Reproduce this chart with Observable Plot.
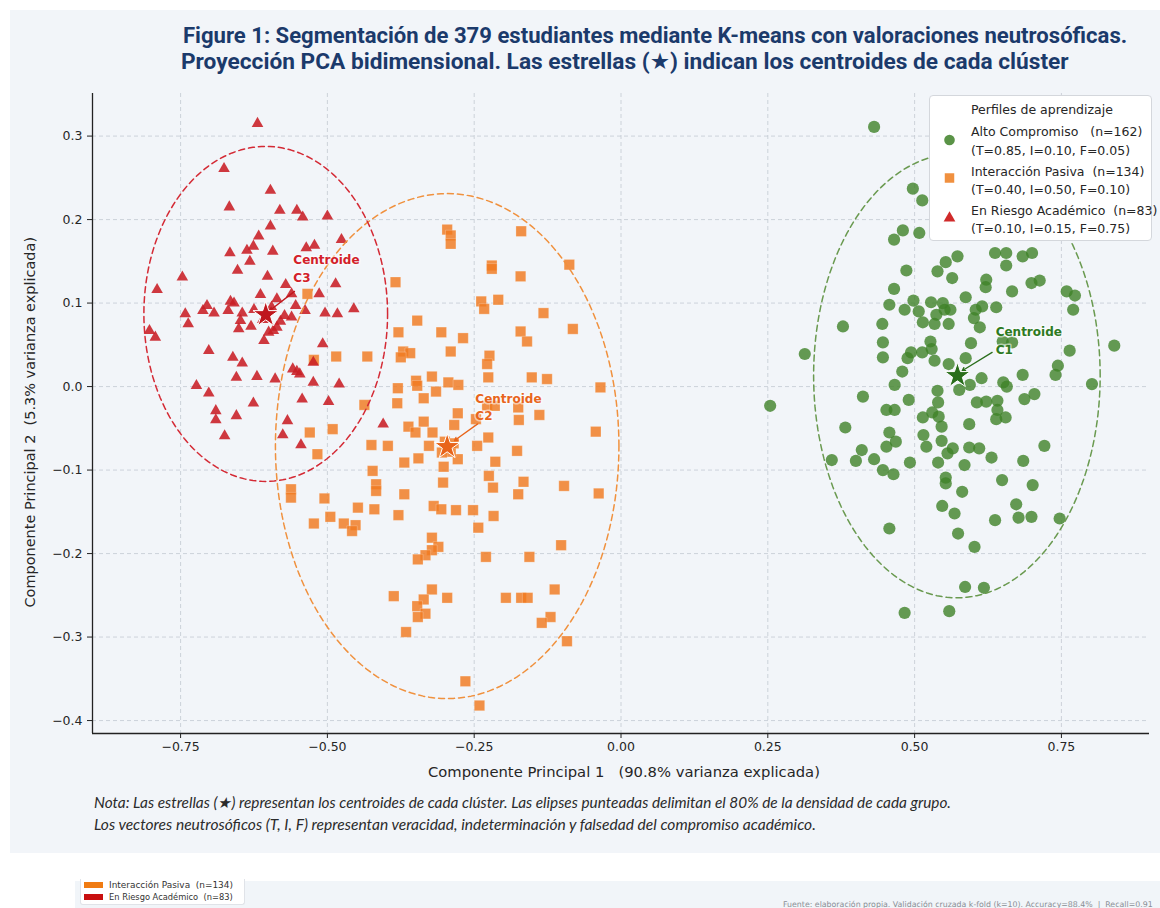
<!DOCTYPE html>
<html><head><meta charset="utf-8">
<script src="https://cdn.jsdelivr.net/npm/d3@7"></script>
<script src="https://cdn.jsdelivr.net/npm/@observablehq/plot@0.6"></script>
<style>
html,body{margin:0;padding:0;background:#fff;}
body{width:1160px;height:908px;overflow:hidden;position:relative;font-family:"DejaVu Sans",sans-serif;}
#panel{position:absolute;left:10px;top:10px;width:1150px;height:843px;background:#f2f5f9;}
#chart{position:absolute;left:0;top:0;}
.abs{position:absolute;white-space:pre;line-height:1;}
.title{font-family:Roboto,"DejaVu Sans",sans-serif;font-weight:700;color:#1b3a6b;font-size:18.5px;}
.note{font-family:Lato,"Open Sans",sans-serif;font-style:italic;color:#2b2b2b;font-size:12.8px;}
.axt{font-family:"DejaVu Sans",sans-serif;color:#262626;font-size:13.5px;}
#legend{position:absolute;left:929px;top:95px;width:223px;height:146px;background:#fff;border:1px solid #d4d7dc;border-radius:4px;box-sizing:border-box;}
.lg{font-family:"DejaVu Sans",sans-serif;color:#262626;font-size:12.5px;}
#strip{position:absolute;left:75px;top:881px;width:1085px;height:27px;background:#f1f5f9;}
#miniLeg{position:absolute;left:80px;top:879px;width:165px;height:26px;background:#fff;border:1px solid #e0e3e8;border-top:none;border-radius:0 0 3px 3px;box-sizing:border-box;}
.mini{font-family:"DejaVu Sans",sans-serif;color:#333;font-size:8.3px;}
.src{font-family:"DejaVu Sans",sans-serif;color:#8a8f96;font-size:7.3px;}
</style></head>
<body>
<div id="panel"></div>
<div id="chart"></div>
<div id="legend"></div>
<div id="strip"></div>
<div id="miniLeg"></div>
<script>
// ---------- DATA ----------
const clusterNames = ["Alto Compromiso", "Interacción Pasiva", "En Riesgo Académico"];
const clusterN = [162, 134, 83];
const clusterTIF = ["(T=0.85, I=0.10, F=0.05)", "(T=0.40, I=0.50, F=0.10)", "(T=0.10, I=0.15, F=0.75)"];

const altoCompromiso = [
[0.431,0.311],[0.497,0.237],[0.513,0.223],[0.480,0.187],[0.465,0.176],[0.508,0.184],[0.553,0.149],[0.573,0.156],[0.539,0.138],[0.486,0.139],
[0.637,0.160],[0.656,0.160],[0.684,0.156],[0.700,0.160],[0.656,0.145],[0.564,0.130],[0.622,0.128],[0.621,0.119],[0.666,0.114],[0.699,0.124],
[0.713,0.127],[0.465,0.117],[0.759,0.114],[0.773,0.109],[0.770,0.092],[0.457,0.098],[0.483,0.092],[0.498,0.103],[0.507,0.090],[0.528,0.101],
[0.548,0.100],[0.551,0.092],[0.561,0.092],[0.587,0.107],[0.604,0.092],[0.615,0.096],[0.639,0.095],[0.537,0.086],[0.514,0.077],[0.534,0.075],
[0.558,0.075],[0.601,0.082],[0.611,0.071],[0.378,0.072],[0.445,0.075],[0.446,0.053],[0.527,0.054],[0.596,0.052],[0.650,0.054],[0.666,0.053],
[0.840,0.049],[0.764,0.043],[0.313,0.039],[0.446,0.035],[0.494,0.041],[0.513,0.041],[0.529,0.045],[0.488,0.034],[0.558,0.027],[0.534,0.031],
[0.587,0.034],[0.744,0.025],[0.740,0.014],[0.684,0.014],[0.479,0.018],[0.614,0.010],[0.651,0.005],[0.657,0.000],[0.594,0.002],[0.576,-0.004],
[0.466,0.002],[0.802,0.003],[0.412,-0.012],[0.539,-0.005],[0.490,-0.016],[0.540,-0.019],[0.606,-0.019],[0.622,-0.018],[0.641,-0.017],[0.687,-0.015],
[0.704,-0.009],[0.254,-0.023],[0.452,-0.028],[0.466,-0.028],[0.530,-0.031],[0.514,-0.037],[0.541,-0.036],[0.641,-0.028],[0.639,-0.039],[0.655,-0.037],
[0.546,-0.048],[0.593,-0.045],[0.382,-0.049],[0.457,-0.055],[0.468,-0.066],[0.452,-0.072],[0.515,-0.058],[0.520,-0.072],[0.546,-0.065],[0.565,-0.074],
[0.556,-0.080],[0.593,-0.073],[0.610,-0.074],[0.631,-0.085],[0.721,-0.071],[0.410,-0.076],[0.359,-0.088],[0.400,-0.089],[0.431,-0.087],[0.446,-0.100],
[0.464,-0.105],[0.492,-0.091],[0.540,-0.091],[0.585,-0.094],[0.685,-0.089],[0.553,-0.109],[0.553,-0.116],[0.649,-0.112],[0.701,-0.118],[0.581,-0.126],
[0.547,-0.143],[0.568,-0.152],[0.673,-0.141],[0.677,-0.157],[0.699,-0.156],[0.637,-0.160],[0.747,-0.158],[0.457,-0.170],[0.574,-0.176],[0.602,-0.192],
[0.586,-0.240],[0.618,-0.241],[0.483,-0.271],[0.559,-0.269],
[0.560,0.195],[0.600,0.205],[0.645,0.190],[0.690,0.200],[0.585,0.225],[0.665,0.235]
];

const interaccionPasiva = [
[-0.296,0.188],[-0.290,0.181],[-0.290,0.171],[-0.170,0.186],[-0.220,0.145],[-0.220,0.141],[-0.171,0.132],[-0.088,0.146],[-0.384,0.125],[-0.238,0.102],
[-0.233,0.093],[-0.209,0.104],[-0.132,0.088],[-0.534,0.111],[-0.347,0.079],[-0.379,0.065],[-0.306,0.065],[-0.269,0.058],[-0.171,0.066],[-0.160,0.054],
[-0.082,0.069],[-0.290,0.042],[-0.371,0.042],[-0.359,0.040],[-0.375,0.035],[-0.485,0.036],[-0.432,0.036],[-0.523,0.032],[-0.224,0.037],[-0.228,0.027],
[-0.226,0.011],[-0.152,0.011],[-0.126,0.009],[-0.035,-0.001],[-0.322,0.012],[-0.349,0.007],[-0.347,0.001],[-0.380,-0.002],[-0.294,0.005],[-0.277,0.002],
[-0.315,-0.006],[-0.336,-0.014],[-0.381,-0.020],[-0.437,-0.022],[-0.278,-0.032],[-0.228,-0.023],[-0.215,-0.023],[-0.175,-0.025],[-0.174,-0.040],[-0.139,-0.034],
[-0.043,-0.054],[-0.247,-0.039],[-0.362,-0.048],[-0.336,-0.042],[-0.350,-0.055],[-0.321,-0.055],[-0.284,-0.046],[-0.530,-0.055],[-0.491,-0.051],[-0.425,-0.070],
[-0.397,-0.071],[-0.327,-0.071],[-0.226,-0.061],[-0.245,-0.071],[-0.517,-0.081],[-0.369,-0.091],[-0.345,-0.086],[-0.278,-0.087],[-0.302,-0.096],[-0.177,-0.077],
[-0.214,-0.090],[-0.423,-0.101],[-0.303,-0.115],[-0.225,-0.107],[-0.218,-0.121],[-0.166,-0.114],[-0.097,-0.119],[-0.038,-0.128],[-0.175,-0.129],[-0.562,-0.123],
[-0.417,-0.117],[-0.417,-0.125],[-0.369,-0.129],[-0.505,-0.134],
[-0.562,-0.133],[-0.448,-0.145],[-0.420,-0.147],[-0.495,-0.156],[-0.523,-0.164],[-0.472,-0.164],[-0.452,-0.166],[-0.458,-0.173],[-0.379,-0.154],[-0.319,-0.143],
[-0.306,-0.147],[-0.281,-0.148],[-0.252,-0.148],[-0.217,-0.155],[-0.243,-0.169],[-0.322,-0.181],[-0.311,-0.192],[-0.322,-0.196],[-0.333,-0.202],[-0.346,-0.207],
[-0.230,-0.204],[-0.156,-0.204],[-0.102,-0.190],[-0.387,-0.251],[-0.322,-0.243],[-0.336,-0.255],[-0.347,-0.263],[-0.333,-0.272],[-0.346,-0.276],[-0.296,-0.253],
[-0.366,-0.294],[-0.196,-0.253],[-0.170,-0.253],[-0.159,-0.253],[-0.113,-0.243],[-0.120,-0.276],[-0.135,-0.283],[-0.265,-0.353],[-0.241,-0.382],[-0.092,-0.305],
[-0.300,-0.066],[-0.290,-0.078],[-0.305,-0.079],[-0.285,-0.068]
];

const enRiesgo = [
[-0.619,0.315],[-0.676,0.261],[-0.597,0.235],[-0.667,0.215],[-0.581,0.211],[-0.552,0.211],[-0.542,0.203],[-0.500,0.204],[-0.597,0.192],[-0.617,0.180],
[-0.626,0.168],[-0.637,0.163],[-0.666,0.160],[-0.593,0.162],[-0.536,0.166],[-0.522,0.169],[-0.476,0.176],[-0.632,0.150],[-0.653,0.139],[-0.602,0.132],
[-0.747,0.131],[-0.790,0.116],[-0.571,0.122],[-0.614,0.110],[-0.561,0.111],[-0.514,0.111],[-0.665,0.102],[-0.659,0.100],[-0.586,0.105],[-0.554,0.097],
[-0.538,0.091],[-0.705,0.097],[-0.712,0.091],[-0.693,0.088],[-0.669,0.091],[-0.645,0.088],[-0.742,0.087],[-0.737,0.075],[-0.648,0.079],[-0.573,0.085],
[-0.561,0.083],[-0.504,0.088],[-0.483,0.087],[-0.455,0.093],[-0.803,0.067],[-0.793,0.059],[-0.651,0.069],[-0.586,0.071],[-0.600,0.065],[-0.592,0.067],
[-0.608,0.055],[-0.508,0.051],[-0.702,0.043],[-0.661,0.035],[-0.645,0.028],[-0.559,0.021],[-0.552,0.018],[-0.547,0.015],[-0.655,0.011],[-0.620,0.012],
[-0.589,0.009],[-0.524,0.005],[-0.480,0.003],[-0.723,0.001],[-0.702,-0.008],[-0.626,-0.020],[-0.543,-0.015],[-0.498,-0.018],[-0.690,-0.029],[-0.690,-0.040],
[-0.655,-0.035],[-0.568,-0.041],[-0.405,-0.045],[-0.675,-0.059],[-0.576,-0.058],[-0.545,-0.070],[-0.524,0.029],[-0.486,0.123],
[-0.610,0.080],[-0.595,0.095],[-0.625,0.092],[-0.580,0.078],[-0.630,0.072]
];

const centroidX = [0.573, -0.296, -0.605];
const centroidY = [0.013, -0.072, 0.086];
const centroidLabels = ["Centroide\nC1", "Centroide\nC2", "Centroide\nC3"];
const labelX = [0.638, -0.248, -0.558];
const labelY = [0.0563, -0.0231, 0.1425];
const arrowFromX = [0.632, -0.244, -0.556];
const arrowFromY = [0.041, -0.0447, 0.114];
const arrowToX = [0.581, -0.2835, -0.598];
const arrowToY = [0.019, -0.0647, 0.091];

// 80% density ellipses (center, semi-axes)
const ellipseCX = [0.572, -0.296, -0.605];
const ellipseCY = [0.013, -0.0713, 0.087];
const ellipseRX = [0.244, 0.2925, 0.2075];
const ellipseRY = [0.266, 0.3024, 0.2006];

const xTicks = [-0.75, -0.5, -0.25, 0, 0.25, 0.5, 0.75];
const yTicks = [-0.4, -0.3, -0.2, -0.1, 0, 0.1, 0.2, 0.3];

// ---------- STYLE ----------
const dotColor = ["#3f8228", "#f07a20", "#c81e24"];
const starColor = ["#2a6e1c", "#e8641a", "#bf161d"];
const textColor = ["#2e7a22", "#e8651c", "#d32029"];
const ellColor = ["#6a9a50", "#f0913e", "#d42a35"];

const centroids = centroidX.map((x, i) => ({i, x, y: centroidY[i], lx: labelX[i], ly: labelY[i],
  ax1: arrowFromX[i], ay1: arrowFromY[i], ax2: arrowToX[i], ay2: arrowToY[i], label: centroidLabels[i]}));

const ellipsePts = [];
ellipseCX.forEach((cx, i) => {
  d3.range(0, 360, 2).forEach(a => {
    const t = a * Math.PI / 180;
    ellipsePts.push({i, x: cx + ellipseRX[i] * Math.cos(t), y: ellipseCY[i] + ellipseRY[i] * Math.sin(t)});
  });
});

const fx = d3.format(".2f"), fy = d3.format(".1f");

const chart = Plot.plot({
  width: 1160, height: 790,
  marginLeft: 92, marginRight: 11, marginTop: 93, marginBottom: 57,
  style: {background: "transparent", fontFamily: "DejaVu Sans", fontSize: "12.5px", color: "#262626", overflow: "visible"},
  x: {domain: [-0.9, 0.9]},
  y: {domain: [-0.4155, 0.351]},
  marks: [
    Plot.gridX(xTicks, {stroke: "#c3c9d2", strokeOpacity: 1, strokeWidth: 0.8, strokeDasharray: "4,3"}),
    Plot.gridY(yTicks, {stroke: "#c3c9d2", strokeOpacity: 1, strokeWidth: 0.8, strokeDasharray: "4,3"}),
    Plot.axisX(xTicks, {tickSize: 5, tickPadding: 4, tickFormat: fx, label: null, stroke: "#222"}),
    Plot.axisY(yTicks, {tickSize: 5, tickPadding: 5, tickFormat: fy, label: null, stroke: "#222"}),
    Plot.ruleX([-0.9], {stroke: "#222", strokeWidth: 1.3}),
    Plot.ruleY([-0.4155], {stroke: "#222", strokeWidth: 1.3}),
    Plot.dot(altoCompromiso, {x: d => d[0], y: d => d[1], r: 6.1, symbol: "circle", fill: dotColor[0], fillOpacity: 0.8}),
    Plot.dot(interaccionPasiva, {x: d => d[0], y: d => d[1], r: 5.9, symbol: "square", fill: dotColor[1], fillOpacity: 0.82, stroke: "#fff", strokeWidth: 0.4, strokeOpacity: 0.6}),
    Plot.dot(enRiesgo, {x: d => d[0], y: d => d[1], r: 4.3, symbol: "triangle", fill: dotColor[2], fillOpacity: 0.88}),
    Plot.line(ellipsePts, {x: "x", y: "y", z: "i", stroke: d => ellColor[d.i], strokeWidth: 1.5, strokeDasharray: "6,4", curve: "linear-closed"}),
    Plot.arrow(centroids, {x1: "ax1", y1: "ay1", x2: "ax2", y2: "ay2", stroke: d => starColor[d.i], strokeWidth: 1.3, headLength: 4, bend: 0}),
    Plot.dot(centroids, {x: "x", y: "y", symbol: "star", r: 8, fill: d => starColor[d.i], stroke: "#fff", strokeWidth: 1}),
    Plot.text(centroids, {x: "lx", y: "ly", text: "label", textAnchor: "start", lineAnchor: "middle", lineHeight: 1.45,
      fontWeight: "bold", fontSize: 12, fill: d => textColor[d.i], stroke: "#fff", strokeWidth: 3, strokeOpacity: 0.55})
  ]
});
document.getElementById("chart").appendChild(chart);

// ---------- TEXT LAYOUT ----------
function place(text, cls, left, cy, width, parent) {
  const el = document.createElement("div");
  el.className = "abs " + cls;
  el.textContent = text;
  (parent || document.body).appendChild(el);
  if (width) {
    const w = el.getBoundingClientRect().width;
    const fs = parseFloat(getComputedStyle(el).fontSize);
    el.style.fontSize = (fs * width / w) + "px";
  }
  const h = el.getBoundingClientRect().height;
  el.style.left = left + "px";
  el.style.top = (cy - h / 2) + "px";
  return el;
}
place("Figure 1: Segmentación de 379 estudiantes mediante K-means con valoraciones neutrosóficas.", "title", 183, 36, 945);
place("Proyección PCA bidimensional. Las estrellas (★) indican los centroides de cada clúster", "title", 181, 62, 888);

place("Componente Principal 1   (90.8% varianza explicada)", "axt", 428, 772, 392);
const yl = place("Componente Principal 2  (5.3% varianza explicada)", "axt", 0, 0, 371);
{
  const r = yl.getBoundingClientRect();
  yl.style.left = (30 - r.width / 2) + "px";
  yl.style.top = (422 - r.height / 2) + "px";
  yl.style.transform = "rotate(-90deg)";
  yl.style.transformOrigin = "50% 50%";
}

place("Nota: Las estrellas (★) representan los centroides de cada clúster. Las elipses punteadas delimitan el 80% de la densidad de cada grupo.", "note", 94, 803, 856);
place("Los vectores neutrosóficos (T, I, F) representan veracidad, indeterminación y falsedad del compromiso académico.", "note", 94, 825, 722);

// legend
const lg = document.getElementById("legend");
place("Perfiles de aprendizaje", "lg", 41, 109 - 95, null, lg);
const rows = [[131.5, 150.7, 140], [171, 189.5, 178], [210, 228, 218]];
rows.forEach((r, i) => {
  place(clusterNames[i] + (i === 0 ? "   " : "  ") + "(n=" + clusterN[i] + ")", "lg", 41, r[0] - 95, null, lg);
  place(clusterTIF[i], "lg", 41, r[1] - 95, null, lg);
});
const ns = "http://www.w3.org/2000/svg";
const ms = document.createElementNS(ns, "svg");
ms.setAttribute("width", 223); ms.setAttribute("height", 146);
ms.style.position = "absolute"; ms.style.left = "-1px"; ms.style.top = "-1px";
const sym = [d3.symbolCircle, d3.symbolSquare, d3.symbolTriangle];
const symSize = [Math.PI * 5.3 * 5.3, 90, 60];
const legFill = ["#5a9347", "#f0903f", "#d02a2a"];
rows.forEach((r, i) => {
  const p = document.createElementNS(ns, "path");
  p.setAttribute("d", d3.symbol(sym[i], symSize[i])());
  p.setAttribute("transform", `translate(20.5,${r[2] - 95})`);
  p.setAttribute("fill", legFill[i]);
  ms.appendChild(p);
});
lg.appendChild(ms);

// bottom strip (cropped legend + source)
const ml = document.getElementById("miniLeg");
const mlColors = ["#f07b12", "#c80f0f"];
[1, 2].forEach((k, j) => {
  const sw = document.createElement("div");
  sw.style.cssText = `position:absolute;left:3px;top:${j === 0 ? 3 : 15}px;width:19px;height:6px;background:${mlColors[j]};`;
  ml.appendChild(sw);
  place(clusterNames[k] + "  (n=" + clusterN[k] + ")", "mini", 28, j === 0 ? 6 : 18, 124, ml);
});
place("Fuente: elaboración propia. Validación cruzada k-fold (k=10). Accuracy=88.4%  |  Recall=0.91", "src", 783, 905, 370);
</script>
</body></html>
